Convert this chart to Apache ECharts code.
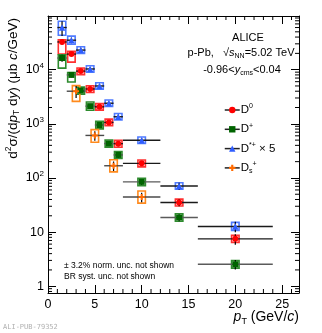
<!DOCTYPE html>
<html>
<head>
<meta charset="utf-8">
<script src="https://cdn.jsdelivr.net/npm/echarts@6/dist/echarts.min.js"></script>
<style>
  html, body { margin: 0; padding: 0; background: #fff; }
  #chart { width: 322px; height: 333px; }
</style>
</head>
<body>
<div id="chart"></div>
<script>
// pT bins (centre, half width) for D0, D+, D*+
const dPt = [1.5, 2.5, 3.5, 4.5, 5.5, 6.5, 7.5, 10, 14, 20];
const dHalfBin = [0.5, 0.5, 0.5, 0.5, 0.5, 0.5, 0.5, 2, 2, 4];
// Ds bins
const dsPt = [3, 5, 7, 10];
const dsHalfBin = [1, 1, 1, 2];

// cross sections (ub c/GeV) as drawn, D*+ already x5
const d0Val = [32500, 19400, 9400, 4400, 2060, 1060, 430, 186, 35.3, 7.5];
const dplusVal = [16400, 8000, 4100, 2120, 950, 432, 266, 84.6, 18.6, 2.54];
const dstarVal = [60000, 35000, 23000, 10300, 5000, 2400, 1350, 496, 71, 12.7];
const dsVal = [4000, 610, 168, 44.5];

// relative stat. unc.
const d0Stat = [0.1, 0.08, 0.08, 0.08, 0.08, 0.08, 0.1, 0.1, 0.15, 0.22];
const dplusStat = [0.15, 0.1, 0.08, 0.08, 0.1, 0.1, 0.12, 0.12, 0.15, 0.2];
const dstarStat = [0.3, 0.12, 0.1, 0.08, 0.08, 0.08, 0.1, 0.1, 0.15, 0.22];
const dsStat = [0.25, 0.2, 0.2, 0.2];

// relative syst. unc. [down, up]
const d0Sys = [[0.4, 0.1], [0.29, 0.12], [0.14, 0.14], [0.14, 0.15], [0.13, 0.15], [0.13, 0.15], [0.14, 0.15], [0.14, 0.15], [0.14, 0.15], [0.14, 0.16]];
const dplusSys = [[0.35, 0.15], [0.26, 0.11], [0.14, 0.16], [0.16, 0.19], [0.15, 0.17], [0.14, 0.16], [0.14, 0.16], [0.15, 0.17], [0.15, 0.17], [0.15, 0.17]];
const dstarSys = [[0.28, 0.31], [0.16, 0.19], [0.13, 0.15], [0.13, 0.15], [0.13, 0.15], [0.13, 0.15], [0.13, 0.15], [0.13, 0.15], [0.13, 0.15], [0.16, 0.19]];
const dsSys = [[0.35, 0.27], [0.25, 0.28], [0.23, 0.29], [0.23, 0.29]];

const xMin = 0, xMax = 26.8;
const yMin = 0.75, yMax = 98000;
const xMinorTicks = [1, 2, 3, 4, 6, 7, 8, 9, 11, 12, 13, 14, 16, 17, 18, 19, 21, 22, 23, 24, 26];
const yMinorTicks = [];
[0.1, 1, 10, 100, 1000, 10000].forEach(dec => {
  for (let m = 2; m <= 9; m++) {
    const v = dec * m;
    if (v > yMin && v < yMax) yMinorTicks.push(v);
  }
});

const legendNames = {
  D0: '{b|D}{sup|0}',
  Dplus: '{b|D}{sup|+}',
  Dstar: '{b|D}{sup|*+}{b| × 5}',
  Ds: '{b|D}{sub|s}{sup|+}'
};

const FONT = 'Liberation Sans, Arial, Helvetica, sans-serif';
const boxHalf = 0.4;

const chart = echarts.init(document.getElementById('chart'));

function boxSeries(pt, val, sys, color) {
  return {
    type: 'custom',
    z: 2,
    silent: true,
    data: pt.map((x, i) => [x, val[i], sys[i][0], sys[i][1]]),
    renderItem(params, api) {
      const x = api.value(0), y = api.value(1);
      const p1 = api.coord([x - boxHalf, y * (1 + api.value(3))]);
      const p2 = api.coord([x + boxHalf, y * (1 - api.value(2))]);
      return {
        type: 'rect',
        shape: { x: p1[0], y: p1[1], width: p2[0] - p1[0], height: p2[1] - p1[1] },
        style: { fill: 'none', stroke: color, lineWidth: 1.6 }
      };
    }
  };
}

function errSeries(pt, half, val, stat, barColor) {
  return {
    type: 'custom',
    z: 3,
    silent: true,
    data: pt.map((x, i) => [x, val[i], half[i], stat[i]]),
    renderItem(params, api) {
      const x = api.value(0), y = api.value(1), hw = api.value(2), st = api.value(3);
      const l = api.coord([x - hw, y]), r = api.coord([x + hw, y]);
      const t = api.coord([x, y * (1 + st)]), b = api.coord([x, y * (1 - st)]);
      return {
        type: 'group',
        children: [
          { type: 'line', shape: { x1: l[0], y1: l[1], x2: r[0], y2: r[1] }, style: { stroke: barColor, lineWidth: 1.4 } },
          { type: 'line', shape: { x1: t[0], y1: t[1], x2: b[0], y2: b[1] }, style: { stroke: '#000', lineWidth: 1.2 } }
        ]
      };
    }
  };
}

function markerSeries(name, pt, val, symbol, size, color) {
  return {
    name: name,
    type: 'line',
    z: 4,
    silent: true,
    symbol: symbol,
    symbolSize: size,
    showSymbol: true,
    lineStyle: { opacity: 0 },
    itemStyle: { color: color, borderWidth: 0 },
    data: pt.map((x, i) => [x, val[i]]),
    animation: false
  };
}

const crossPath = 'path://M2,0H4V2H6V4H4V6H2V4H0V2H2Z';

const option = {
  animation: false,
  grid: { left: 48, right: 23, top: 16, bottom: 40 },
  xAxis: [{
    type: 'value', min: xMin, max: xMax, interval: 5, position: 'bottom',
    axisLine: { show: true, onZero: false, lineStyle: { color: '#000', width: 1 } },
    axisTick: { inside: true, length: 8, lineStyle: { color: '#000' } },
    axisLabel: { color: '#000', fontFamily: FONT, fontSize: 12.5, margin: 5, showMaxLabel: false },
    splitLine: { show: false }
  }, {
    type: 'value', min: xMin, max: xMax, interval: 5, position: 'top',
    axisLine: { show: true, onZero: false, lineStyle: { color: '#000', width: 1 } },
    axisTick: { inside: true, length: 8, lineStyle: { color: '#000' } },
    axisLabel: { show: false },
    splitLine: { show: false }
  }],
  yAxis: [{
    type: 'log', logBase: 10, min: yMin, max: yMax, position: 'left',
    axisLine: { show: true, onZero: false, lineStyle: { color: '#000', width: 1 } },
    axisTick: { inside: true, length: 8, lineStyle: { color: '#000' } },
    axisLabel: {
      color: '#000', fontFamily: FONT, fontSize: 12.5, margin: 4,
      showMinLabel: false, showMaxLabel: false,
      formatter: v => {
        const k = Math.round(Math.log10(v));
        if (k === 0) return '{n|1}';
        if (k === 1) return '{n|10}';
        return '{n|10}{sup|' + k + '}';
      },
      rich: {
        n: { fontFamily: FONT, fontSize: 12.5, color: '#000' },
        sup: { fontFamily: FONT, fontSize: 8, color: '#000', padding: [0, 0, 8, 0] }
      }
    },
    splitLine: { show: false }
  }, {
    type: 'log', logBase: 10, min: yMin, max: yMax, position: 'right',
    axisLine: { show: true, onZero: false, lineStyle: { color: '#000', width: 1 } },
    axisTick: { inside: true, length: 8, lineStyle: { color: '#000' } },
    axisLabel: { show: false },
    splitLine: { show: false }
  }],
  legend: {
    orient: 'vertical',
    left: 219, top: 98,
    itemWidth: 15, itemHeight: 8, itemGap: 5.3,
    data: ['D0', 'Dplus', 'Dstar', 'Ds'],
    lineStyle: { color: '#222', width: 1.5, opacity: 1 },
    formatter: name => legendNames[name],
    textStyle: {
      fontFamily: FONT, fontSize: 11.5, color: '#000', lineHeight: 14, padding: [0, 0, 0, -4],
      rich: {
        b: { fontFamily: FONT, fontSize: 11.5, color: '#000' },
        sup: { fontFamily: FONT, fontSize: 7, color: '#000', padding: [0, 0, 7, 0] },
        sub: { fontFamily: FONT, fontSize: 7, color: '#000', padding: [6, 0, 0, 0] }
      }
    }
  },
  graphic: [
    { type: 'text', x: 248, y: 38, style: { text: 'ALICE', font: '11px ' + FONT, fill: '#000', textAlign: 'center', textVerticalAlign: 'middle' } },
    { type: 'text', x: 241, y: 53, style: {
      text: '{n|p-Pb,   √}{i|s}{sub|NN}{n|=5.02 TeV}', textAlign: 'center', textVerticalAlign: 'middle',
      rich: {
        n: { fontFamily: FONT, fontSize: 11, fill: '#000' },
        i: { fontFamily: FONT, fontSize: 11, fontStyle: 'italic', fill: '#000' },
        sub: { fontFamily: FONT, fontSize: 7, fill: '#000', padding: [6, 0, 0, 0] }
      } } },
    { type: 'text', x: 242, y: 70, style: {
      text: '{n|-0.96<}{i|y}{sub|cms}{n|<0.04}', textAlign: 'center', textVerticalAlign: 'middle',
      rich: {
        n: { fontFamily: FONT, fontSize: 11, fill: '#000' },
        i: { fontFamily: FONT, fontSize: 11, fontStyle: 'italic', fill: '#000' },
        sub: { fontFamily: FONT, fontSize: 7, fill: '#000', padding: [7, 0, 0, 0] }
      } } },
    { type: 'text', x: 64, y: 266, style: { text: '± 3.2% norm. unc. not shown', font: '8.5px ' + FONT, fill: '#000', textVerticalAlign: 'middle' } },
    { type: 'text', x: 64, y: 277, style: { text: 'BR syst. unc. not shown', font: '8.5px ' + FONT, fill: '#000', textVerticalAlign: 'middle' } },
    { type: 'text', x: 299, y: 317, style: {
      text: '{i|p}{sub|T}{n| (GeV/}{i|c}{n|)}', textAlign: 'right', textVerticalAlign: 'middle',
      rich: {
        n: { fontFamily: FONT, fontSize: 14, fill: '#000' },
        i: { fontFamily: FONT, fontSize: 14, fontStyle: 'italic', fill: '#000' },
        sub: { fontFamily: FONT, fontSize: 9, fill: '#000', padding: [9, 0, 0, 0] }
      } } },
    { type: 'text', x: 13, y: 18, rotation: Math.PI / 2, style: {
      text: '{n|d}{sup|2}{n|σ/(d}{i|p}{sub|T}{n| d}{i|y}{n|) (μb }{i|c}{n|/GeV)}', textAlign: 'right', textVerticalAlign: 'middle',
      rich: {
        n: { fontFamily: FONT, fontSize: 13.5, fill: '#000' },
        i: { fontFamily: FONT, fontSize: 13.5, fontStyle: 'italic', fill: '#000' },
        sup: { fontFamily: FONT, fontSize: 8.5, fill: '#000', padding: [0, 0, 8, 0] },
        sub: { fontFamily: FONT, fontSize: 8.5, fill: '#000', padding: [8, 0, 0, 0] }
      } } },
    { type: 'text', x: 3, y: 327, style: { text: 'ALI-PUB-79352', font: '7px DejaVu Sans Mono, monospace', fill: '#b0b0b0', textVerticalAlign: 'middle' } }
  ],
  series: [
    // minor ticks on x (bottom and top)
    {
      type: 'custom', z: 1, silent: true,
      data: xMinorTicks.map(v => [v, yMin]),
      renderItem(params, api) {
        const b = api.coord([api.value(0), yMin]);
        const t = api.coord([api.value(0), yMax]);
        return { type: 'group', children: [
          { type: 'line', shape: { x1: b[0], y1: b[1], x2: b[0], y2: b[1] - 4 }, style: { stroke: '#000', lineWidth: 1 } },
          { type: 'line', shape: { x1: t[0], y1: t[1], x2: t[0], y2: t[1] + 4 }, style: { stroke: '#000', lineWidth: 1 } }
        ] };
      }
    },
    // minor ticks on y (left and right)
    {
      type: 'custom', z: 1, silent: true,
      data: yMinorTicks.map(v => [xMin, v]),
      renderItem(params, api) {
        const l = api.coord([xMin, api.value(1)]);
        const r = api.coord([xMax, api.value(1)]);
        return { type: 'group', children: [
          { type: 'line', shape: { x1: l[0], y1: l[1], x2: l[0] + 4, y2: l[1] }, style: { stroke: '#000', lineWidth: 1 } },
          { type: 'line', shape: { x1: r[0], y1: r[1], x2: r[0] - 4, y2: r[1] }, style: { stroke: '#000', lineWidth: 1 } }
        ] };
      }
    },
    boxSeries(dPt, d0Val, d0Sys, '#ff3030'),
    boxSeries(dPt, dplusVal, dplusSys, '#2e8b2e'),
    boxSeries(dPt, dstarVal, dstarSys, '#4f7bff'),
    boxSeries(dsPt, dsVal, dsSys, '#ff8a1c'),
    errSeries(dPt, dHalfBin, d0Val, d0Stat, '#1a1a1a'),
    errSeries(dPt, dHalfBin, dplusVal, dplusStat, '#5a5a5a'),
    errSeries(dPt, dHalfBin, dstarVal, dstarStat, '#1a1a1a'),
    errSeries(dsPt, dsHalfBin, dsVal, dsStat, '#4a4a4a'),
    markerSeries('D0', dPt, d0Val, 'circle', 6, '#ff0000'),
    markerSeries('Dplus', dPt, dplusVal, 'rect', 6, '#006400'),
    markerSeries('Dstar', dPt, dstarVal, 'triangle', 6.5, '#2f5dff'),
    markerSeries('Ds', dsPt, dsVal, crossPath, 6, '#ff6a00')
  ]
};

chart.setOption(option);
</script>
</body>
</html>
